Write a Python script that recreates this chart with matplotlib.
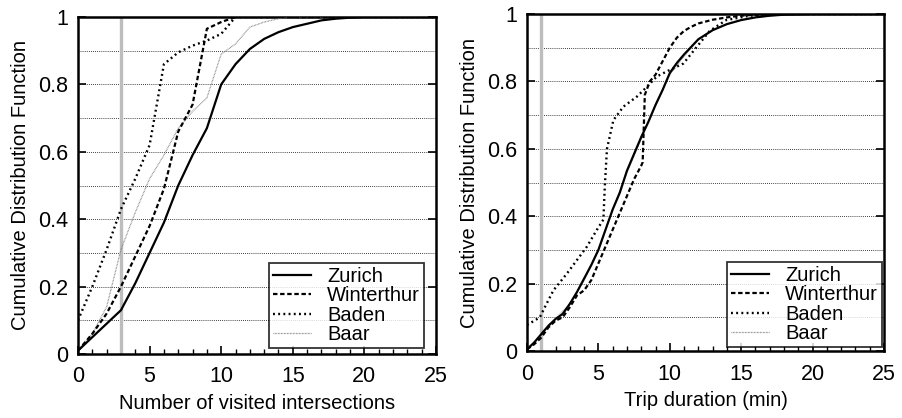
import matplotlib
matplotlib.use("Agg")
import matplotlib.pyplot as plt
from matplotlib.ticker import MultipleLocator

plt.rcParams['font.family'] = ['Liberation Sans', 'DejaVu Sans']

series_names = ["Zurich", "Winterthur", "Baden", "Baar"]

# Left panel: number of visited intersections
inter_x = [0, 1, 2, 3, 4, 5, 6, 7, 8, 9, 10, 11, 12, 13, 14, 15, 16, 17, 18, 19, 20, 21, 22, 23, 24, 25]
zurich_inter = [0.01, 0.05, 0.09, 0.13, 0.21, 0.30, 0.39, 0.50, 0.59, 0.67, 0.80, 0.86, 0.905, 0.935,
                0.955, 0.97, 0.98, 0.99, 0.995, 0.998, 1.0, 1.0, 1.0, 1.0, 1.0, 1.0]
winterthur_inter = [0.01, 0.06, 0.12, 0.20, 0.29, 0.38, 0.49, 0.66, 0.74, 0.965, 0.985, 1.0, 1.0, 1.0,
                    1.0, 1.0, 1.0, 1.0, 1.0, 1.0, 1.0, 1.0, 1.0, 1.0, 1.0, 1.0]
baden_inter = [0.10, 0.20, 0.31, 0.43, 0.52, 0.62, 0.86, 0.895, 0.915, 0.93, 0.95, 1.0, 1.0, 1.0,
               1.0, 1.0, 1.0, 1.0, 1.0, 1.0, 1.0, 1.0, 1.0, 1.0, 1.0, 1.0]
baar_inter = [0.01, 0.06, 0.14, 0.31, 0.42, 0.52, 0.59, 0.67, 0.72, 0.76, 0.89, 0.92, 0.97, 0.985,
              0.995, 1.0, 1.0, 1.0, 1.0, 1.0, 1.0, 1.0, 1.0, 1.0, 1.0, 1.0]
inter_marker = 3

# Right panel: trip duration (min)
zurich_dur_x = [0, 0.5, 1, 1.5, 2, 2.5, 3, 3.5, 4, 4.5, 5, 5.5, 6, 6.5, 7, 7.5, 8, 8.5, 9, 9.5, 10,
                10.5, 11, 12, 13, 14, 15, 16, 17, 18, 20, 25]
zurich_dur = [0.005, 0.025, 0.05, 0.075, 0.095, 0.11, 0.14, 0.175, 0.215, 0.255, 0.30, 0.36, 0.42,
              0.47, 0.535, 0.585, 0.635, 0.68, 0.73, 0.775, 0.825, 0.855, 0.88, 0.925, 0.952, 0.97,
              0.982, 0.99, 0.995, 0.998, 1.0, 1.0]
winterthur_dur_x = [0, 0.5, 1, 1.5, 2, 2.5, 3, 3.5, 4, 4.5, 5, 5.5, 6, 6.5, 7, 7.5, 8, 8.1, 8.25,
                    8.6, 9, 9.5, 10, 10.5, 11, 11.5, 12, 13, 14, 15, 16, 17, 18, 20, 25]
winterthur_dur = [0.005, 0.02, 0.04, 0.07, 0.09, 0.10, 0.13, 0.165, 0.18, 0.21, 0.26, 0.31, 0.36,
                  0.41, 0.46, 0.51, 0.55, 0.56, 0.76, 0.80, 0.82, 0.86, 0.90, 0.93, 0.95, 0.962,
                  0.972, 0.983, 0.99, 0.995, 0.998, 0.999, 1.0, 1.0, 1.0]
baden_dur_x = [0, 0.9, 1.25, 1.85, 2.8, 3.5, 4.2, 4.9, 5.35, 5.45, 5.6, 6.05, 6.75, 7.7, 8.4, 9.1,
               10.0, 10.95, 11.9, 12.8, 13.95, 15.6, 18, 25]
baden_dur = [0.077, 0.10, 0.13, 0.18, 0.23, 0.27, 0.31, 0.36, 0.39, 0.49, 0.60, 0.685, 0.725, 0.755,
             0.784, 0.815, 0.834, 0.853, 0.903, 0.95, 0.982, 0.995, 1.0, 1.0]
baar_dur_x = [0, 1, 2, 3, 4, 5, 6, 7, 8, 9, 10, 11, 12, 13, 14, 15, 16, 18, 20, 25]
baar_dur = [0.005, 0.05, 0.095, 0.14, 0.21, 0.30, 0.42, 0.53, 0.63, 0.73, 0.82, 0.875, 0.925, 0.952,
            0.97, 0.982, 0.99, 0.998, 1.0, 1.0]
dur_marker = 1

x_ticks = [0, 5, 10, 15, 20, 25]
y_ticks = [0, 0.2, 0.4, 0.6, 0.8, 1.0]
y_ticklabels = ["0", "0.2", "0.4", "0.6", "0.8", "1"]

styles = [
    dict(color="black", lw=1.6, linestyle="-"),
    dict(color="black", lw=1.6, linestyle=(0, (2.0, 1.2))),
    dict(color="black", lw=1.7, linestyle=(0, (0.8, 1.4))),
    dict(color="#808080", lw=0.9, linestyle=(0, (0.6, 0.6))),
]

fig = plt.figure(figsize=(9.02, 4.18), dpi=100)
ax1 = fig.add_axes([78 / 902, (418 - 354) / 418, 358 / 902, 337 / 418])
ax2 = fig.add_axes([527 / 902, (418 - 351) / 418, 357 / 902, 337 / 418])

panels = [
    (ax1, [(inter_x, zurich_inter), (inter_x, winterthur_inter), (inter_x, baden_inter),
           (inter_x, baar_inter)], inter_marker, "Number of visited intersections",
     (424 - 78) / 358, (354 - 348) / 337),
    (ax2, [(zurich_dur_x, zurich_dur), (winterthur_dur_x, winterthur_dur), (baden_dur_x, baden_dur),
           (baar_dur_x, baar_dur)], dur_marker, "Trip duration (min)",
     (882 - 527) / 357, (351 - 347) / 337),
]

for ax, data, marker, xlabel, lx, ly in panels:
    for yg in [0.1, 0.2, 0.3, 0.4, 0.5, 0.6, 0.7, 0.8, 0.9]:
        ax.axhline(yg, color="black", lw=0.6, linestyle=(0, (1, 1.5)), zorder=1)
    ax.axvline(marker, color="#bdbdbd", lw=2.4, zorder=2)
    order = [3, 2, 1, 0]
    handles = {}
    for i in order:
        xs, ys = data[i]
        (ln,) = ax.plot(xs, ys, label=series_names[i], zorder=3 + (3 - i), **styles[i])
        handles[i] = ln
    ax.set_xlim(0, 25)
    ax.set_ylim(0, 1)
    ax.set_xticks(x_ticks)
    ax.xaxis.set_minor_locator(MultipleLocator(1))
    ax.set_yticks(y_ticks)
    ax.set_yticklabels(y_ticklabels)
    ax.tick_params(axis="both", which="major", direction="in", length=6, width=1.2,
                   labelsize=15.5, top=False, right=True)
    ax.tick_params(axis="x", which="major", pad=9)
    ax.tick_params(axis="y", which="major", pad=7)
    ax.tick_params(axis="x", which="minor", direction="in", length=3.5, width=1.0, top=False)
    for s in ax.spines.values():
        s.set_linewidth(1.8)
    ax.set_xlabel(xlabel, fontsize=14.5, labelpad=5)
    ax.set_ylabel("Cumulative Distribution Function", fontsize=14.5, labelpad=6)
    leg = ax.legend([handles[i] for i in range(4)], series_names, loc="lower right",
                    bbox_to_anchor=(lx, ly), borderaxespad=0, fontsize=14.5, frameon=True,
                    fancybox=False, edgecolor="black", handlelength=1.9, handletextpad=0.8,
                    labelspacing=0.02, borderpad=0.2)
    leg.get_frame().set_linewidth(1.3)
    leg.set_zorder(10)

fig.savefig("out.png", dpi=100)
